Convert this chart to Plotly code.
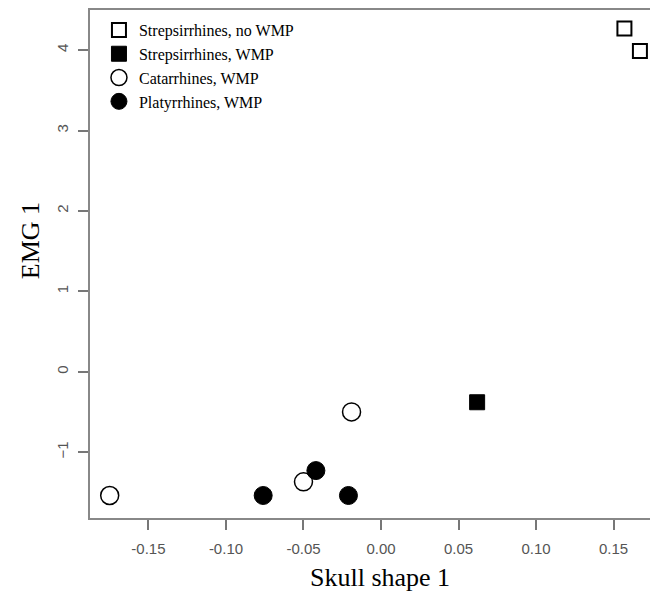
import plotly.graph_objects as go

# Data
groups = ["Strepsirrhines, no WMP", "Strepsirrhines, WMP", "Catarrhines, WMP", "Platyrrhines, WMP"]
strep_nowmp_x = [0.157, 0.167]
strep_nowmp_y = [4.27, 3.99]
strep_wmp_x = [0.062]
strep_wmp_y = [-0.38]
catarrh_x = [-0.019, -0.050, -0.175]
catarrh_y = [-0.50, -1.37, -1.54]
platyrr_x = [-0.042, -0.076, -0.021]
platyrr_y = [-1.23, -1.54, -1.54]

x_ticks = [-0.15, -0.10, -0.05, 0.00, 0.05, 0.10, 0.15]
x_ticklabels = ["-0.15", "-0.10", "-0.05", "0.00", "0.05", "0.10", "0.15"]
y_ticks = [-1, 0, 1, 2, 3, 4]
x_title = "Skull shape 1"
y_title = "EMG 1"

fig = go.Figure()
fig.add_trace(go.Scatter(x=strep_nowmp_x, y=strep_nowmp_y, mode="markers", name=groups[0],
                         marker=dict(symbol="square", size=14, color="white",
                                     line=dict(color="black", width=2))))
fig.add_trace(go.Scatter(x=strep_wmp_x, y=strep_wmp_y, mode="markers", name=groups[1],
                         marker=dict(symbol="square", size=15, color="black",
                                     line=dict(color="black", width=1))))
fig.add_trace(go.Scatter(x=catarrh_x, y=catarrh_y, mode="markers", name=groups[2],
                         marker=dict(symbol="circle", size=18, color="white",
                                     line=dict(color="black", width=1.5))))
fig.add_trace(go.Scatter(x=platyrr_x, y=platyrr_y, mode="markers", name=groups[3],
                         marker=dict(symbol="circle", size=18, color="black",
                                     line=dict(color="black", width=1))))

fig.update_layout(
    width=650, height=598,
    margin=dict(l=90, r=0, t=10, b=80),
    paper_bgcolor="white", plot_bgcolor="white",
    showlegend=True,
    legend=dict(x=0.016, y=0.994, xanchor="left", yanchor="top",
                bgcolor="rgba(0,0,0,0)", borderwidth=0,
                font=dict(family="Liberation Serif", size=16, color="black"),
                tracegroupgap=0, itemwidth=30),
    xaxis=dict(range=[-0.1877, 0.1735], tickvals=x_ticks, ticktext=x_ticklabels,
               showgrid=False, zeroline=False, showline=True, linecolor="#888", linewidth=2,
               mirror=True, ticks="outside", ticklen=10, tickcolor="#777", tickwidth=1.5,
               ticklabelstandoff=6,
               tickfont=dict(family="Liberation Sans", size=15, color="#555")),
    yaxis=dict(range=[-1.82, 4.5], tickvals=y_ticks, tickangle=-90,
               showgrid=False, zeroline=False, showline=True, linecolor="#888", linewidth=2,
               mirror=False, ticks="outside", ticklen=10, tickcolor="#777", tickwidth=1.5,
               ticklabelstandoff=4,
               tickfont=dict(family="Liberation Sans", size=15, color="#555")),
    annotations=[
        dict(text=x_title, xref="paper", yref="paper", x=0.518, y=-0.118,
             xanchor="center", yanchor="middle", showarrow=False,
             font=dict(family="Liberation Serif", size=26, color="black")),
        dict(text=y_title, xref="paper", yref="paper", x=-0.107, y=0.545,
             xanchor="center", yanchor="middle", showarrow=False, textangle=-90,
             font=dict(family="Liberation Serif", size=26, color="black")),
    ],
)

fig.write_html("out.html")
